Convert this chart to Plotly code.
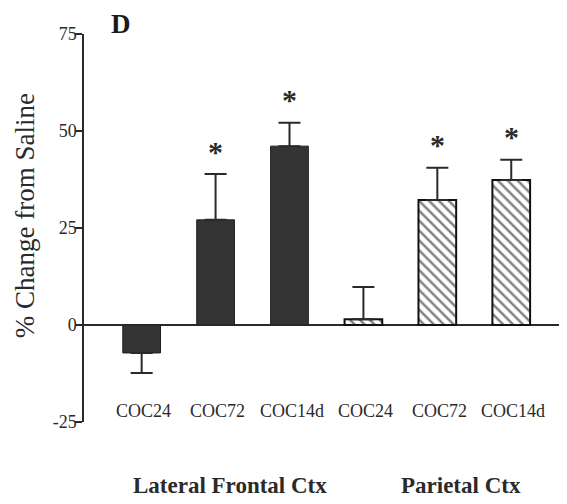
import plotly.graph_objects as go

# ---- data ----
regions = ["Lateral Frontal Ctx", "Parietal Ctx"]
groups = ["COC24", "COC72", "COC14d"]
lateral_mean = [-7.2, 27.1, 46.1]
lateral_sem = [5.2, 11.8, 6.0]
parietal_mean = [1.5, 32.2, 37.4]
parietal_sem = [8.3, 8.3, 5.2]
lateral_sig = [False, True, True]
parietal_sig = [False, True, True]
y_tickvals = [75, 50, 25, 0, -25]
y_ticktext = ["75", "50", "25", "0", "-25"]
y_title = "% Change from Saline"
panel_label = "D"

SERIF = "Liberation Serif, Times New Roman, serif"
INK = "#2a2a2a"

n = len(groups)
x_lat = list(range(n))
x_par = [n + i for i in range(n)]


def up_down(means, sems):
    up = [s if m >= 0 else 0 for m, s in zip(means, sems)]
    dn = [s if m < 0 else 0 for m, s in zip(means, sems)]
    return up, dn


lat_up, lat_dn = up_down(lateral_mean, lateral_sem)
par_up, par_dn = up_down(parietal_mean, parietal_sem)

fig = go.Figure()
fig.add_trace(go.Bar(
    x=x_lat, y=lateral_mean, width=0.51,
    marker=dict(color="#343434", line=dict(color="#1e1e1e", width=1)),
    error_y=dict(type="data", symmetric=False, array=lat_up, arrayminus=lat_dn,
                 color=INK, thickness=2, width=11),
    showlegend=False,
))
fig.add_trace(go.Bar(
    x=x_par, y=parietal_mean, width=0.51,
    marker=dict(color="white",
                line=dict(color="#111111", width=2),
                pattern=dict(shape="\\", fgcolor="#000000", bgcolor="white",
                             size=7, solidity=0.35)),
    error_y=dict(type="data", symmetric=False, array=par_up, arrayminus=par_dn,
                 color=INK, thickness=2, width=11),
    showlegend=False,
))

annotations = []
# significance asterisks
for xs, means, sems, sigs in [(x_lat, lateral_mean, lateral_sem, lateral_sig),
                              (x_par, parietal_mean, parietal_sem, parietal_sig)]:
    for x, m, s, sig in zip(xs, means, sems, sigs):
        if sig:
            annotations.append(dict(
                x=x, y=m + s, xref="x", yref="y", text="<b>*</b>", showarrow=False,
                font=dict(family=SERIF, size=30, color=INK),
                xanchor="center", yanchor="middle", yshift=23,
            ))
# category labels
for xs in (x_lat, x_par):
    for x, g in zip(xs, groups):
        annotations.append(dict(
            x=x, y=-22.2, xref="x", yref="y", text=g, showarrow=False,
            font=dict(family=SERIF, size=18, color=INK),
            xanchor="center", yanchor="middle", xshift=2,
        ))
# region labels
for xs, r, sh in [(x_lat, regions[0], 14), (x_par, regions[1], 24)]:
    annotations.append(dict(
        x=sum(xs) / len(xs), y=-0.163, xref="x", yref="paper",
        text="<b>" + r + "</b>", showarrow=False,
        font=dict(family=SERIF, size=23, color=INK),
        xanchor="center", yanchor="middle", xshift=sh,
    ))
# y title
annotations.append(dict(
    x=-0.123, y=0.531, xref="paper", yref="paper", text=y_title,
    showarrow=False, textangle=-90,
    font=dict(family=SERIF, size=27, color=INK),
    xanchor="center", yanchor="middle",
))
# panel label
annotations.append(dict(
    x=0.0774, y=1.026, xref="paper", yref="paper", text="<b>" + panel_label + "</b>",
    showarrow=False, font=dict(family=SERIF, size=27, color="#1a1a1a"),
    xanchor="center", yanchor="middle",
))

fig.update_layout(
    width=559, height=496,
    margin=dict(l=76, r=6, t=26, b=82),
    paper_bgcolor="white", plot_bgcolor="white",
    barmode="overlay",
    annotations=annotations,
    xaxis=dict(range=[-0.78, 5.673], showgrid=False, zeroline=False,
               showline=False, showticklabels=False, ticks=""),
    yaxis=dict(range=[-25, 75], tickvals=y_tickvals, ticktext=y_ticktext,
               showgrid=False, zeroline=True, zerolinecolor=INK, zerolinewidth=1.5,
               showline=True, linecolor=INK, linewidth=1.5,
               ticks="outside", ticklen=7, tickwidth=1.5, tickcolor=INK,
               ticklabelstandoff=-5,
               tickfont=dict(family=SERIF, size=18, color=INK)),
)

fig.write_html("out.html")
